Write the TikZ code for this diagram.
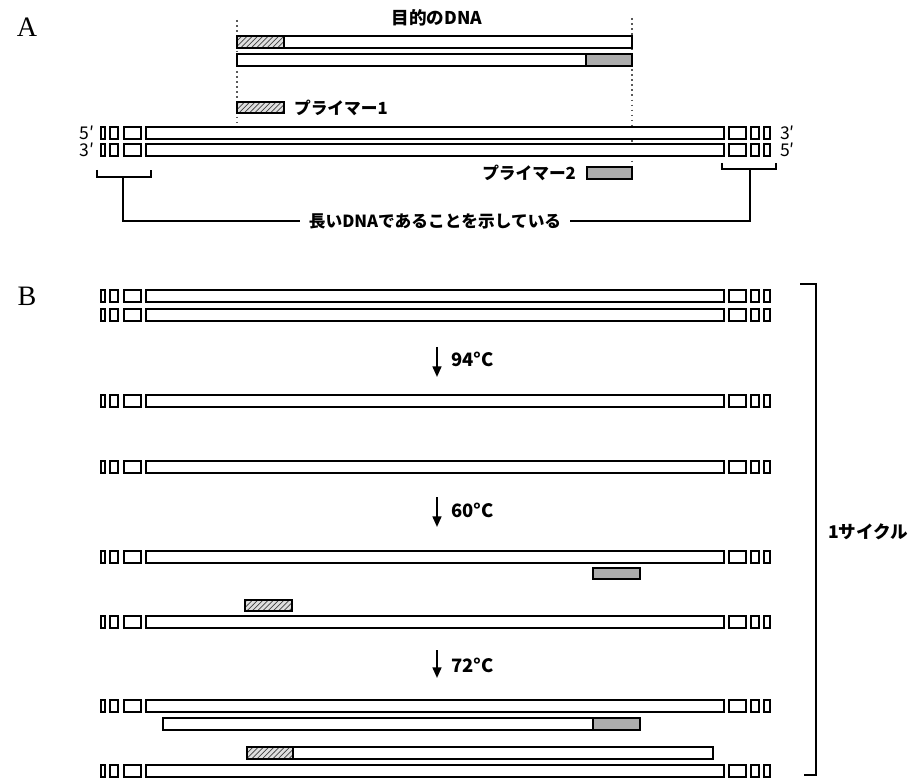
\documentclass[tikz,border=0pt]{standalone}
\usepackage{fontspec}
\newfontfamily\jp{Noto Sans CJK JP}
\newfontfamily\panelfont{Liberation Serif}
\usetikzlibrary{patterns, arrows.meta, positioning}

% boxes at both ends of a long strand (top edge at #1)
\newcommand\dnaends[1]{%
  \foreach \a/\b in {101/105,110/118,124/141,729/746,751/759,764/770}
    \draw[endbox] (\a,#1) rectangle (\b,#1+12);}

\begin{document}
\begin{tikzpicture}[
    x = 0.02cm, y = -0.02cm,
    every node/.style = {inner sep=1pt},
    strand/.style  = {draw, line width=0.85pt, fill=white},
    endbox/.style  = {draw, line width=0.85pt},
    hatchp/.style  = {draw, line width=0.85pt, preaction={fill=gray!25},
                      pattern=north east lines, pattern color=black!75},
    grayp/.style   = {draw, line width=0.85pt, fill=gray!65},
    guide/.style   = {dotted, line width=0.9pt, gray!70!black},
    temp/.style    = {-{Triangle[width=5pt,length=6pt]}, line width=1.1pt},
    jlbl/.style    = {font=\jp\bfseries\fontsize{9.5}{11}\selectfont},
    endlbl/.style  = {font=\jp\fontsize{10}{12}\selectfont},
    tlbl/.style    = {font=\jp\bfseries\fontsize{10.5}{12}\selectfont, anchor=west},
    panel/.style   = {font=\panelfont\fontsize{16}{18}\selectfont},
    brk/.style     = {line width=0.85pt},
]
\useasboundingbox (0,0) rectangle (921,784);

% ---------------- A ----------------
\node[panel] (pA) at (27,27) {A};
\node[jlbl, font=\jp\bfseries\fontsize{10}{12}\selectfont] (target) at (437,18) {目的のDNA};
\draw[guide] (237,20) -- (237,127);
\draw[guide] (632,18) -- (632,167);

% target DNA
\draw[strand] (237,36) rectangle (632,48);
\draw[hatchp] (237,36) rectangle (284,48);
\draw[strand] (237,54) rectangle (632,66);
\draw[grayp]  (586,54) rectangle (632,66);

% primer 1
\draw[hatchp] (237,102) rectangle (284,113);
\node[jlbl, anchor=west] (p1) at (292,107.5) {プライマー1};

% long DNA
\foreach \y in {127,144} {
  \draw[strand] (146,\y) rectangle (724,\y+12);
  \dnaends{\y}
}
\node[endlbl, anchor=east] at (96,133) {5′};
\node[endlbl, anchor=east] at (96,150) {3′};
\node[endlbl, anchor=west] at (778,133) {3′};
\node[endlbl, anchor=west] at (778,150) {5′};

% primer 2
\draw[grayp] (587,167) rectangle (632,179);
\node[jlbl, anchor=east] (p2) at (578,173) {プライマー2};

% brackets
\draw[brk] (97,170) -- (97,177) -- (151,177) -- (151,170);
\draw[brk] (722,163) -- (722,169) -- (776,169) -- (776,163);
\coordinate (lbr) at (123,177);
\coordinate (rbr) at (750,169);
\node[jlbl, inner sep=5pt] (longlbl) at (435,221) {長いDNAであることを示している};
\draw[brk] (lbr) |- (longlbl.west);
\draw[brk] (rbr) |- (longlbl.east);

% ---------------- B ----------------
\node[panel] (pB) at (27,296) {B};

% double strand
\foreach \y in {290,309} {
  \draw[strand] (146,\y) rectangle (724,\y+12);
  \dnaends{\y}
}

% 94 C
\coordinate (a1s) at (437,347);
\coordinate (a1e) at (437,377);
\draw[temp] (a1s) -- (a1e);
\node[tlbl] (t1) at (449,359) {94°C};

\foreach \y in {395,461} {
  \draw[strand] (146,\y) rectangle (724,\y+12);
  \dnaends{\y}
}

% 60 C
\coordinate (a2s) at (437,497);
\coordinate (a2e) at (437,527);
\draw[temp] (a2s) -- (a2e);
\node[tlbl] (t2) at (449,510) {60°C};

\draw[strand] (146,551) rectangle (724,563);
\dnaends{551}
\draw[grayp] (593,568) rectangle (640,579);

\draw[hatchp] (245,600) rectangle (292,611);
\draw[strand] (146,616) rectangle (724,628);
\dnaends{616}

% 72 C
\coordinate (a3s) at (437,650);
\coordinate (a3e) at (437,678);
\draw[temp] (a3s) -- (a3e);
\node[tlbl] (t3) at (449,665) {72°C};

\draw[strand] (146,700) rectangle (724,712);
\dnaends{700}
\draw[strand] (163,718) rectangle (640,730);
\draw[grayp]  (593,718) rectangle (640,730);

\draw[strand] (247,747) rectangle (713,759);
\draw[hatchp] (247,747) rectangle (293,759);
\draw[strand] (146,765) rectangle (724,777);
\dnaends{765}

% one cycle
\draw[brk] (800,284) -| (816,775) -- (804,775);
\node[tlbl, font=\jp\bfseries\fontsize{10}{12}\selectfont] (cyc) at (826,532) {1サイクル};
\end{tikzpicture}
\end{document}
